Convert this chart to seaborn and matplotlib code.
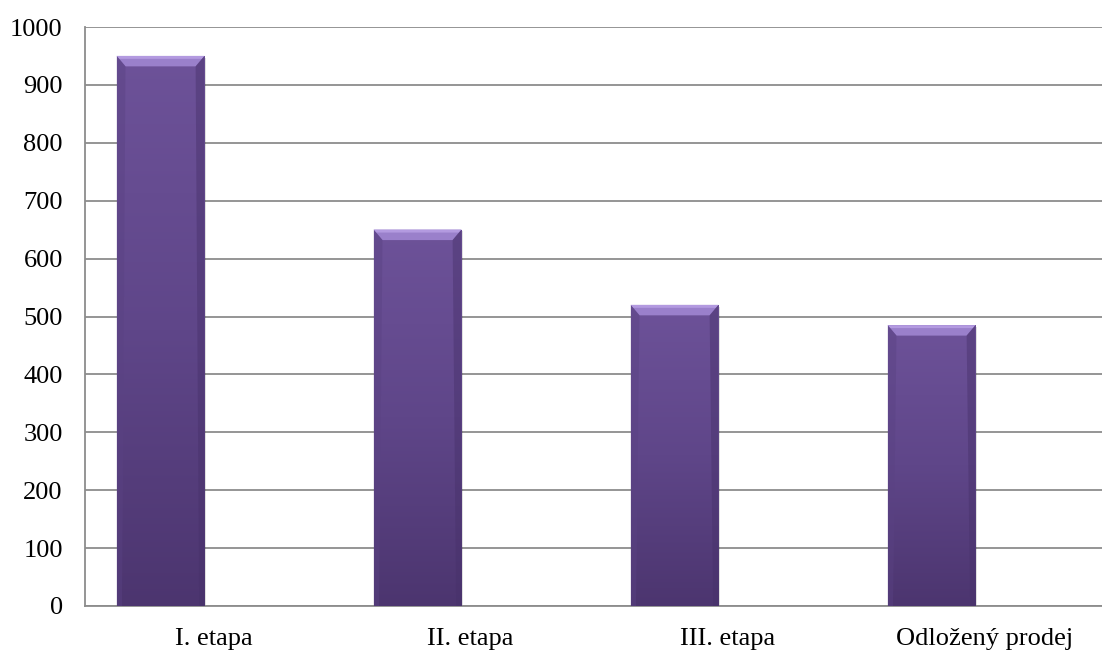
import matplotlib
matplotlib.use("Agg")
import matplotlib.pyplot as plt
import numpy as np
import pandas as pd
import seaborn as sns
from matplotlib.colors import LinearSegmentedColormap

categories = ["I. etapa", "II. etapa", "III. etapa", "Odložený prodej"]
values = [950, 650, 520, 485]
y_ticks = [0, 100, 200, 300, 400, 500, 600, 700, 800, 900, 1000]

sns.set_style("white")
plt.rcParams['font.family'] = ['Liberation Serif', 'DejaVu Serif']

df = pd.DataFrame({"stage": categories, "count": values})

fig = plt.figure(figsize=(11.02, 6.51), dpi=100)
# the original plot area runs a little past the right edge of the picture
ax = fig.add_axes([85 / 1102, 1 - 606 / 651, 1028 / 1102, 579 / 651])

sns.barplot(data=df, x="stage", y="count", width=0.341, color="#644a8e",
            ax=ax, zorder=3)

# bars sit left of the category centre, like in the original
grad = LinearSegmentedColormap.from_list("bar", ["#4c356f", "#5f4689", "#6d5299"])
for p in list(ax.patches):
    p.set_x(p.get_x() - 0.206)
    x0, w, h = p.get_x(), p.get_width(), p.get_height()
    p.set_facecolor("none")
    p.set_edgecolor("none")
    img = ax.imshow(np.linspace(0, 1, 256).reshape(-1, 1), cmap=grad,
                    extent=[x0, x0 + w, 0, h], origin="lower", aspect="auto",
                    zorder=3)
    img.set_clip_path(p)
    # bevel on top edge
    ax.fill([x0, x0 + w, x0 + w * 0.9, x0 + w * 0.1],
            [h, h, h - 18, h - 18], color="#9a80cb", lw=0, zorder=4)
    ax.fill([x0, x0 + w, x0 + w * 0.97, x0 + w * 0.03],
            [h, h, h - 5, h - 5], color="#b39ae0", lw=0, zorder=4)
    ax.fill([x0, x0 + w * 0.1, x0 + w * 0.06, x0],
            [h, h - 18, 0, 0], color="#5a4283", lw=0, zorder=4, alpha=0.45)
    ax.fill([x0 + w, x0 + w * 0.9, x0 + w * 0.94, x0 + w],
            [h, h - 18, 0, 0], color="#47316a", lw=0, zorder=4, alpha=0.45)
    # soft shadow
    ax.add_patch(plt.Rectangle((x0 + 0.006, -3), w, h, color="#000000",
                               alpha=0.12, lw=0, zorder=2))

ax.set_aspect("auto")
ax.set_xlim(-0.5, len(categories) - 0.5)
ax.set_ylim(0, 1000)
ax.set_yticks(y_ticks)

ax.yaxis.grid(True, color="#8c8c8c", linewidth=1.3, zorder=1)
ax.xaxis.grid(False)
ax.set_axisbelow(True)
for side in ["top", "right"]:
    ax.spines[side].set_visible(False)
for side in ["left", "bottom"]:
    ax.spines[side].set_color("#8c8c8c")
    ax.spines[side].set_linewidth(1.3)

ax.tick_params(axis="both", length=0, labelsize=19, colors="black")
ax.tick_params(axis="y", pad=16)
ax.tick_params(axis="x", pad=16)
ax.set_xlabel("")
ax.set_ylabel("")

plt.savefig("out.png", dpi=100)
